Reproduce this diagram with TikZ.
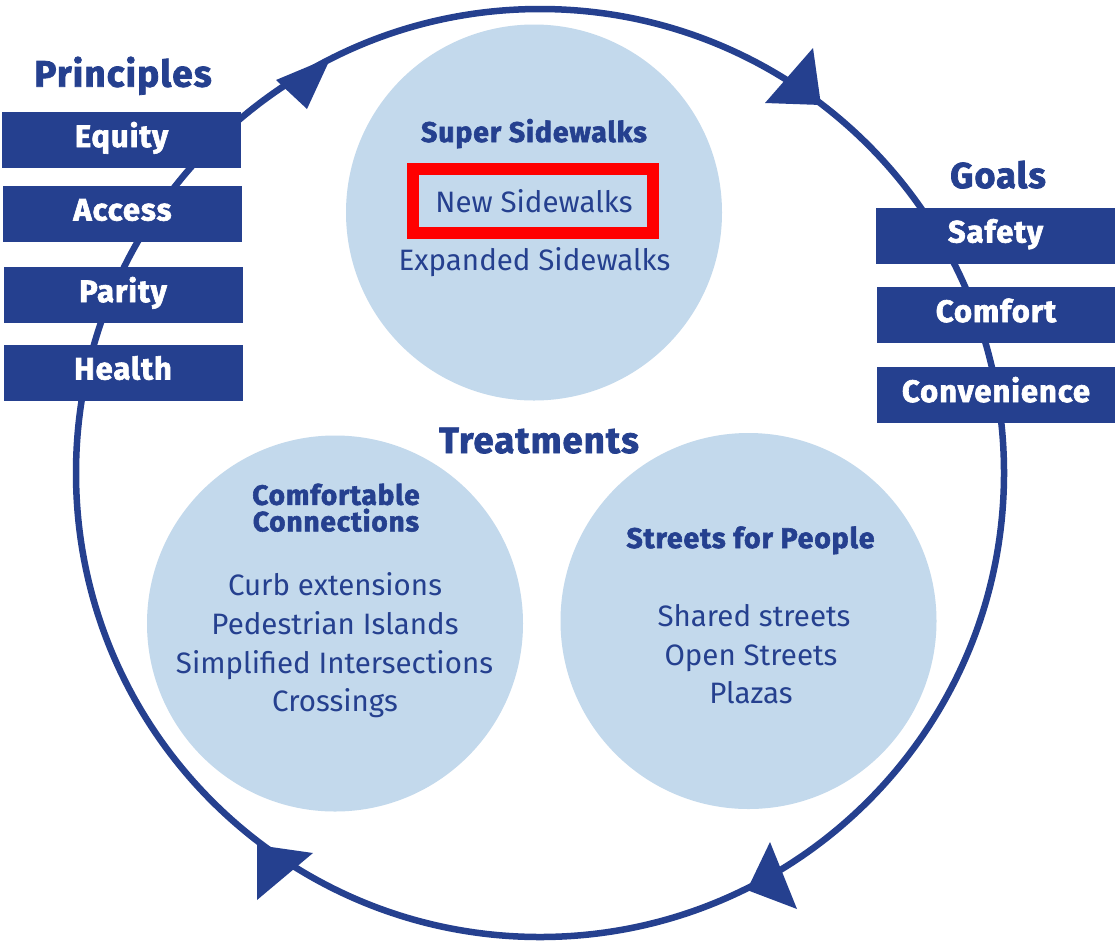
\documentclass[tikz,border=0pt]{standalone}
\usepackage{fontspec}
\setmainfont{Fira Sans}
\newfontfamily\heavyfont{Fira Sans}[BoldFeatures={FakeBold=2,LetterSpace=3}]
\definecolor{navy}{HTML}{25408F}
\definecolor{pale}{HTML}{C3D9EC}
\tikzset{
  heading/.style={font=\fontsize{37}{40}\selectfont\heavyfont\bfseries, text=navy, anchor=base, inner sep=0},
  tag/.style={fill=navy, text=white, font=\fontsize{31}{34}\selectfont\heavyfont\bfseries,
    minimum width=239, minimum height=56, inner sep=0, text height=21, text depth=7},
  bubble/.style={circle, fill=pale, minimum size=376, inner sep=0},
  bubblehead/.style={font=\fontsize{28.5}{25}\selectfont\heavyfont\bfseries, text=navy, anchor=base, inner sep=0},
  item/.style={font=\fontsize{29.5}{34}\selectfont, text=navy, anchor=base, inner sep=0},
  tip/.style={fill=navy, draw=none},
  hl/.style={draw=red, line width=12, minimum width=239.5, minimum height=63.6, inner sep=0}
}
\begin{document}
\begin{tikzpicture}[x=1pt,y=-1pt]
\useasboundingbox (0,0) rectangle (1115,943);
\fill[white] (0,0) rectangle (1115,943);

% cycle
\node[circle, draw=navy, line width=6.5, minimum size=928, inner sep=0] (cycle) at (540,473) {};
\fill[tip] (331,57) -- (276,80) -- (307,109) -- cycle;
\fill[tip] (821,105) -- (813,48) -- (765,103) -- cycle;
\fill[tip] (747,890) -- (770,842) -- (797,909) -- cycle;
\fill[tip] (257,845) -- (313,853) -- (257,900) -- cycle;

% bubbles
\node[bubble] (ss) at (534,212.5) {};
\node[bubble] (cc) at (335,623.5) {};
\node[bubble] (sp) at (748.5,621) {};

% principles
\node[heading] (principles) at (123,86.7) {Principles};
\node[tag] (equity) at (121.5,140) {Equity};
\node[tag] (access) at (122.5,213.5) {Access};
\node[tag] (parity) at (123,295) {Parity};
\node[tag] (health) at (123,372.5) {Health};

% goals
\node[heading, font=\fontsize{36}{40}\selectfont\heavyfont\bfseries] (goals) at (998,188) {Goals};
\node[tag] (safety) at (995.5,235.5) {Safety};
\node[tag] (comfort) at (996,315) {Comfort};
\node[tag] (convenience) at (996,395) {Convenience};

% treatments
\node[heading, font=\fontsize{36.5}{40}\selectfont\heavyfont\bfseries] (treat) at (539,453) {Treatments};

% super sidewalks
\node[bubblehead] (ssh) at (534,142) {Super Sidewalks};
\node[item] (new) at (534,212) {New Sidewalks};
\node[item] (exp) at (534.5,270) {Expanded Sidewalks};
\node[hl] (box) at (533,201) {};

% comfortable connections
\node[bubblehead, font=\fontsize{28}{26.5}\selectfont\heavyfont\bfseries, align=center, anchor=south] (cch) at (336,532) {Comfortable\\Connections};
\node[item] (c1) at (335,595.7) {Curb extensions};
\node[item] (c2) at (335,634) {Pedestrian Islands};
\node[item] (c3) at (334.5,673) {Simplified Intersections};
\node[item] (c4) at (335,711.7) {Crossings};

% streets for people
\node[bubblehead] (sph) at (750.5,548) {Streets for People};
\node[item] (s1) at (754,626.7) {Shared streets};
\node[item] (s2) at (751,665) {Open Streets};
\node[item] (s3) at (751,703) {Plazas};
\end{tikzpicture}
\end{document}
